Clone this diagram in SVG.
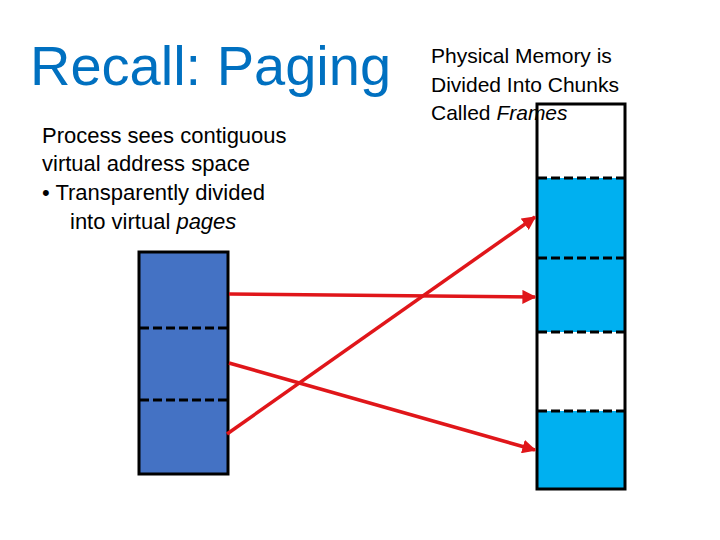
<svg xmlns="http://www.w3.org/2000/svg" width="720" height="540" viewBox="0 0 720 540">
<style>
text{font-family:"Liberation Sans",Arial,sans-serif}
.b{font-size:22px;fill:#000}
.d{stroke:#000;stroke-width:3;stroke-dasharray:9,4}
.a{stroke:#e0161a;stroke-width:3.5;fill:none;marker-end:url(#ah)}
</style>
<defs><marker id="ah" viewBox="0 0 10 10" refX="9" refY="5" markerWidth="4" markerHeight="4" orient="auto"><path d="M0,0L10,5L0,10z" fill="#e0161a"/></marker></defs>
<rect width="720" height="540" fill="#fff"/>
<text x="30" y="85" font-size="56" fill="#0070c0">Recall: Paging</text>
<text class="b" x="42" y="143">Process sees contiguous</text>
<text class="b" x="42" y="171">virtual address space</text>
<text class="b" x="42" y="200">•  Transparently divided</text>
<text class="b" x="70" y="229">into virtual <tspan font-style="italic">pages</tspan></text>
<g id="virtual">
<rect x="139" y="252" width="89" height="222" fill="#4472c4" stroke="#000" stroke-width="3"/>
<line class="d" x1="140" y1="328" x2="227" y2="328"/>
<line class="d" x1="140" y1="400" x2="227" y2="400"/>
</g>
<g id="physical">
<rect x="537" y="104" width="88" height="385" fill="#fff"/>
<rect x="537" y="178" width="88" height="154" fill="#00b0f0"/>
<rect x="537" y="411" width="88" height="78" fill="#00b0f0"/>
<rect x="537" y="104" width="88" height="385" fill="none" stroke="#000" stroke-width="3"/>
<line class="d" x1="538" y1="178" x2="624" y2="178"/>
<line class="d" x1="538" y1="258" x2="624" y2="258"/>
<line class="d" x1="538" y1="332" x2="624" y2="332"/>
<line class="d" x1="538" y1="411" x2="624" y2="411"/>
</g>
<text x="431" y="63" font-size="21">Physical Memory is</text>
<text x="431" y="92" font-size="21">Divided Into Chunks</text>
<text x="431" y="120" font-size="21">Called <tspan font-style="italic">Frames</tspan></text>
<g id="connectors">
<path class="a" d="M229,294L535,297"/>
<path class="a" d="M229,363L535,450"/>
<path class="a" d="M227,434L535,217"/>
</g>
</svg>
